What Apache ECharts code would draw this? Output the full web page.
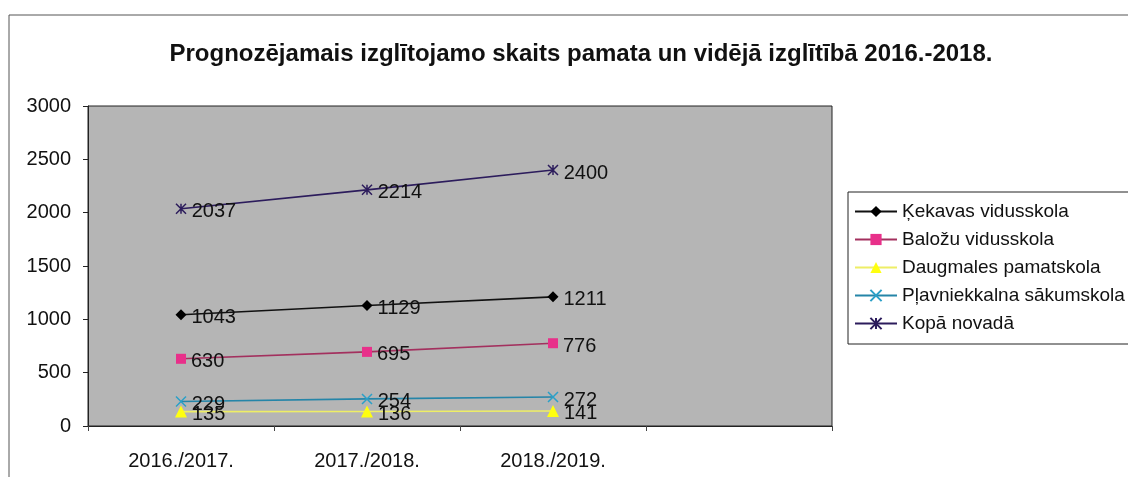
<!DOCTYPE html>
<html>
<head>
<meta charset="utf-8">
<script src="https://cdn.jsdelivr.net/npm/echarts@6/dist/echarts.min.js"></script>
<style>
  html, body { margin: 0; padding: 0; background: #fff; }
  #container { width: 1128px; height: 477px; }
</style>
</head>
<body>
<div id="container"></div>
<script>
const categories = ['2016./2017.', '2017./2018.', '2018./2019.', '']
const kekavas = [1043, 1129, 1211]
const balozu = [630, 695, 776]
const daugmales = [135, 136, 141]
const plavniekkalna = [229, 254, 272]
const kopa = [2037, 2214, 2400]
const seriesNames = ['Ķekavas vidusskola', 'Baložu vidusskola', 'Daugmales pamatskola', 'Pļavniekkalna sākumskola', 'Kopā novadā']

const font = 'Liberation Sans, Arial, sans-serif'
const xPath = 'path://M0,0L10,10M10,0L0,10'
const starPath = 'path://M0,0L10,10M10,0L0,10M5,0L5,10'

function makeSeries(name, data, lineColor, markColor, symbol, size, stroke) {
  return {
    name,
    type: 'line',
    data,
    symbol,
    symbolSize: size,
    lineStyle: { color: lineColor, width: 1.6 },
    itemStyle: stroke
      ? { color: markColor, borderColor: markColor, borderWidth: 1.5 }
      : { color: markColor },
    label: {
      show: true,
      position: 'right',
      distance: 5,
      offset: [0, 3],
      color: '#111',
      fontSize: 20,
      fontFamily: font
    },
    emphasis: { disabled: true }
  }
}

const myChart = echarts.init(document.getElementById('container'), null, { renderer: 'canvas' })
const option = {
  animation: false,
  backgroundColor: '#fff',
  title: {
    text: 'Prognozējamais izglītojamo skaits pamata un vidējā izglītībā 2016.-2018.',
    left: 576,
    textAlign: 'center',
    top: 37,
    textStyle: { fontSize: 24, fontWeight: 'bold', color: '#111', fontFamily: font }
  },
  graphic: [{
    type: 'rect',
    shape: { x: 9, y: 15, width: 1200, height: 600 },
    style: { fill: 'none', stroke: '#555', lineWidth: 1 },
    silent: true
  }],
  legend: {
    orient: 'vertical',
    left: 848,
    top: 192,
    width: 300,
    padding: [10, 40, 11, 6],
    itemGap: 9,
    itemWidth: 42,
    itemHeight: 14,
    borderColor: '#222',
    borderWidth: 1,
    backgroundColor: '#fff',
    textStyle: { fontSize: 19, lineHeight: 18, color: '#111', fontFamily: font },
    data: seriesNames
  },
  grid: {
    left: 88,
    right: 296,
    top: 106,
    bottom: 51,
    show: true,
    backgroundColor: '#b5b5b5',
    borderColor: '#222',
    borderWidth: 1
  },
  xAxis: {
    type: 'category',
    data: categories,
    boundaryGap: true,
    axisLine: { lineStyle: { color: '#222' } },
    axisTick: { show: true, length: 5, lineStyle: { color: '#444' } },
    axisLabel: { color: '#111', fontSize: 20, margin: 25, fontFamily: font },
    splitLine: { show: false }
  },
  yAxis: {
    type: 'value',
    min: 0,
    max: 3000,
    interval: 500,
    axisLine: { show: true, lineStyle: { color: '#222' } },
    axisTick: { show: true, length: 5, lineStyle: { color: '#222' } },
    axisLabel: { color: '#111', fontSize: 20, margin: 17, fontFamily: font, formatter: v => String(v) },
    splitLine: { show: false }
  },
  series: [
    makeSeries(seriesNames[0], kekavas, '#111', '#000', 'diamond', 11, false),
    makeSeries(seriesNames[1], balozu, '#a3305e', '#e8308a', 'rect', 10, false),
    makeSeries(seriesNames[2], daugmales, '#eeee66', '#ffff10', 'triangle', 12, false),
    makeSeries(seriesNames[3], plavniekkalna, '#2585a8', '#2aa0c8', xPath, 10, true),
    makeSeries(seriesNames[4], kopa, '#2c1c5c', '#2c1c5c', starPath, 10, true)
  ]
}
myChart.setOption(option)
</script>
</body>
</html>
